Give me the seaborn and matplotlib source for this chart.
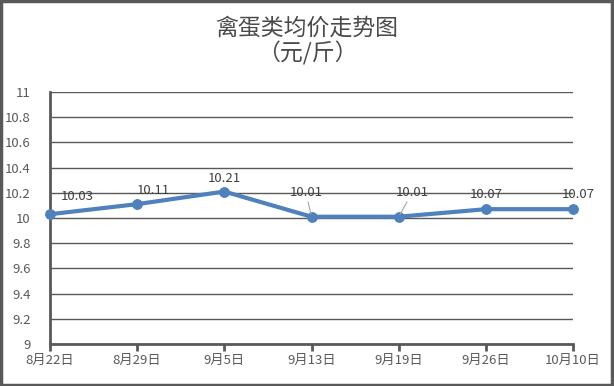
import matplotlib
matplotlib.use("Agg")
import matplotlib.pyplot as plt
import seaborn as sns
import pandas as pd
from matplotlib.patches import Rectangle

dates = ["8月22日", "8月29日", "9月5日", "9月13日", "9月19日", "9月26日", "10月10日"]
prices = [10.03, 10.11, 10.21, 10.01, 10.01, 10.07, 10.07]
y_ticks = [9, 9.2, 9.4, 9.6, 9.8, 10, 10.2, 10.4, 10.6, 10.8, 11]
title_line1 = "禽蛋类均价走势图"
title_line2 = "（元/斤）"

sns.set_theme(style="white")
plt.rcParams['font.family'] = ['Noto Sans CJK SC', 'DejaVu Sans']

gray = "#595959"
blue = "#4F81BD"

fig = plt.figure(figsize=(6.14, 3.86), dpi=100)
ax = fig.add_axes([50/614, 1-344/386, (573-50)/614, (344-92)/386])

df = pd.DataFrame({"x": range(len(dates)), "price": prices})
sns.lineplot(data=df, x="x", y="price", ax=ax, color=blue, linewidth=3,
             marker="o", markersize=7, markeredgecolor=blue, clip_on=False, zorder=5)

ax.set_xlim(0, len(dates)-1)
ax.set_ylim(9, 11)
ax.set_xticks(range(len(dates)))
ax.set_xticklabels(dates)
ax.set_yticks(y_ticks)
ax.set_yticklabels([f"{t:g}" for t in y_ticks])
ax.set_xlabel("")
ax.set_ylabel("")

ax.yaxis.grid(True, color=gray, linewidth=1)
ax.set_axisbelow(True)
for s in ["top", "right"]:
    ax.spines[s].set_visible(False)
for s in ["left", "bottom"]:
    ax.spines[s].set_color(gray)
    ax.spines[s].set_linewidth(2)
ax.tick_params(axis="x", bottom=True, length=5, width=2, color=gray, labelsize=9.5, labelcolor=gray, pad=2)
ax.tick_params(axis="y", left=False, labelsize=9.5, labelcolor=gray, pad=8)

# data labels (offsets in points)
offsets = [(20, 8), (12, 5), (0, 5), (-4, 13), (10, 13), (0, 6), (4, 6)]
leader = [False, False, False, True, True, False, False]
for i, (p, off, ld) in enumerate(zip(prices, offsets, leader)):
    kw = {}
    if ld:
        kw["arrowprops"] = dict(arrowstyle="-", color="#A6A6A6", lw=0.8, shrinkA=0, shrinkB=2)
    ax.annotate(f"{p:.2f}", xy=(i, p), xytext=off, textcoords="offset points",
                ha="center", va="bottom", fontsize=9.5, color="#404040",
                annotation_clip=False, zorder=6, **kw)

fig.text(0.5, 1-28/386, title_line1, ha="center", va="center", fontsize=16.5, color="#4a4a4a")
fig.text(0.5, 1-53/386, title_line2, ha="center", va="center", fontsize=16.5, color="#4a4a4a")

fig.patches.append(Rectangle((0.002, 0.003), 0.994, 0.994, transform=fig.transFigure,
                             fill=False, edgecolor=gray, linewidth=2.5))

fig.savefig("out.png", dpi=100)
